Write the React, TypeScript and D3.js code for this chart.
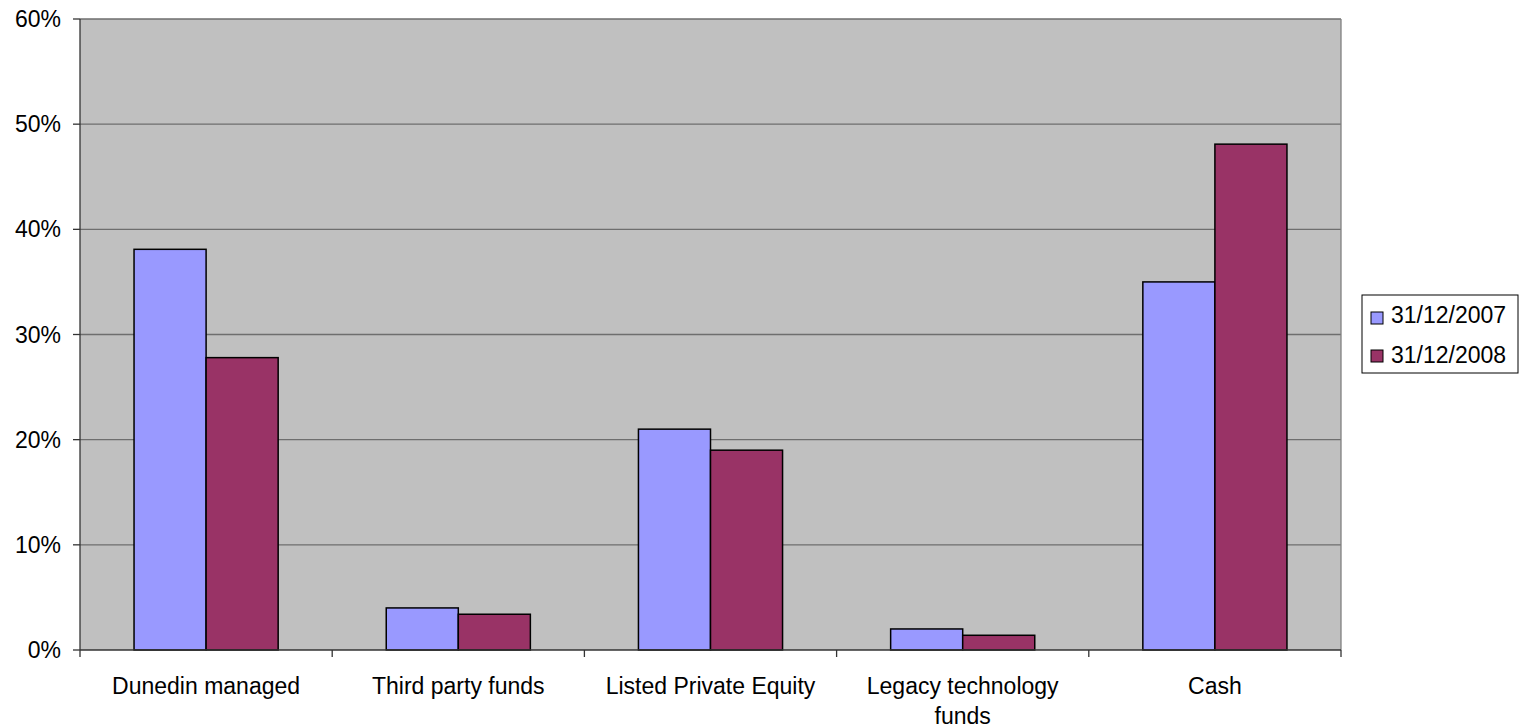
import React from "react";
import * as d3 from "d3";

const categories = ["Dunedin managed", "Third party funds", "Listed Private Equity", "Legacy technology funds", "Cash"];
const categoryLines = [["Dunedin managed"], ["Third party funds"], ["Listed Private Equity"], ["Legacy technology", "funds"], ["Cash"]];
const seriesNames = ["31/12/2007", "31/12/2008"];
const values2007 = [38.1, 4.0, 21.0, 2.0, 35.0];
const values2008 = [27.8, 3.4, 19.0, 1.4, 48.1];
const seriesColors = ["#9999FF", "#993366"];
const yTicks = [0, 10, 20, 30, 40, 50, 60];

export default function App() {
  const W = 1526, H = 728;
  const left = 80, right = 1341, top = 19, bottom = 650;
  const font = "'Liberation Sans', Arial, sans-serif";
  const x = d3.scaleBand<string>().domain(categories).range([left, right]).paddingInner(3 / 7).paddingOuter(3 / 14);
  const step = (right - left) / categories.length;
  const y = d3.scaleLinear().domain([0, 60]).range([bottom, top]);
  const xs = d3.scaleBand<string>().domain(seriesNames).range([0, x.bandwidth()]);
  const series = [values2007, values2008];
  return (
    <svg width={W} height={H} style={{ position: "absolute", left: 0, top: 0 }} fontFamily={font}>
      <rect x={left} y={top} width={right - left} height={bottom - top} fill="#C0C0C0" />
      {yTicks.filter(t => t > 0).map(t => (
        <line key={t} x1={left} x2={right} y1={y(t)} y2={y(t)} stroke="#6e6e6e" strokeWidth={1.3} />
      ))}
      <line x1={right} x2={right} y1={top} y2={bottom} stroke="#808080" strokeWidth={1.3} />
      {series.map((vals, si) =>
        categories.map((c, i) => (
          <rect key={si + "-" + i}
            x={(x(c) as number) + (xs(seriesNames[si]) as number)}
            y={y(vals[i])}
            width={xs.bandwidth()}
            height={bottom - y(vals[i])}
            fill={seriesColors[si]} stroke="#000" strokeWidth={1.5} />
        ))
      )}
      <line x1={left} x2={left} y1={top} y2={bottom} stroke="#333" strokeWidth={1.3} />
      <line x1={left} x2={right} y1={bottom} y2={bottom} stroke="#333" strokeWidth={1.3} />
      {yTicks.map(t => (
        <g key={t}>
          <line x1={left - 7} x2={left} y1={y(t)} y2={y(t)} stroke="#333" strokeWidth={1.3} />
          <text x={61} y={y(t)} dy="0.35em" textAnchor="end" fontSize={23} fill="#000">{t}%</text>
        </g>
      ))}
      {d3.range(categories.length + 1).map(i => (
        <line key={i} x1={left + i * step} x2={left + i * step} y1={bottom} y2={bottom + 7} stroke="#333" strokeWidth={1.3} />
      ))}
      {categories.map((c, i) => (
        <text key={c} x={(x(c) as number) + x.bandwidth() / 2} y={694} textAnchor="middle" fontSize={23} fill="#000">
          {categoryLines[i].map((ln, j) => (
            <tspan key={j} x={(x(c) as number) + x.bandwidth() / 2} dy={j === 0 ? 0 : 30}>{ln}</tspan>
          ))}
        </text>
      ))}
      <rect x={1362} y={295} width={156} height={78} fill="#fff" stroke="#000" strokeWidth={1} />
      {seriesNames.map((s, i) => (
        <g key={s}>
          <rect x={1371} y={312 + i * 38} width={12} height={12} fill={seriesColors[i]} stroke="#000" strokeWidth={1} />
          <text x={1391} y={315 + i * 40} dy="0.35em" fontSize={23} fill="#000">{s}</text>
        </g>
      ))}
    </svg>
  );
}
